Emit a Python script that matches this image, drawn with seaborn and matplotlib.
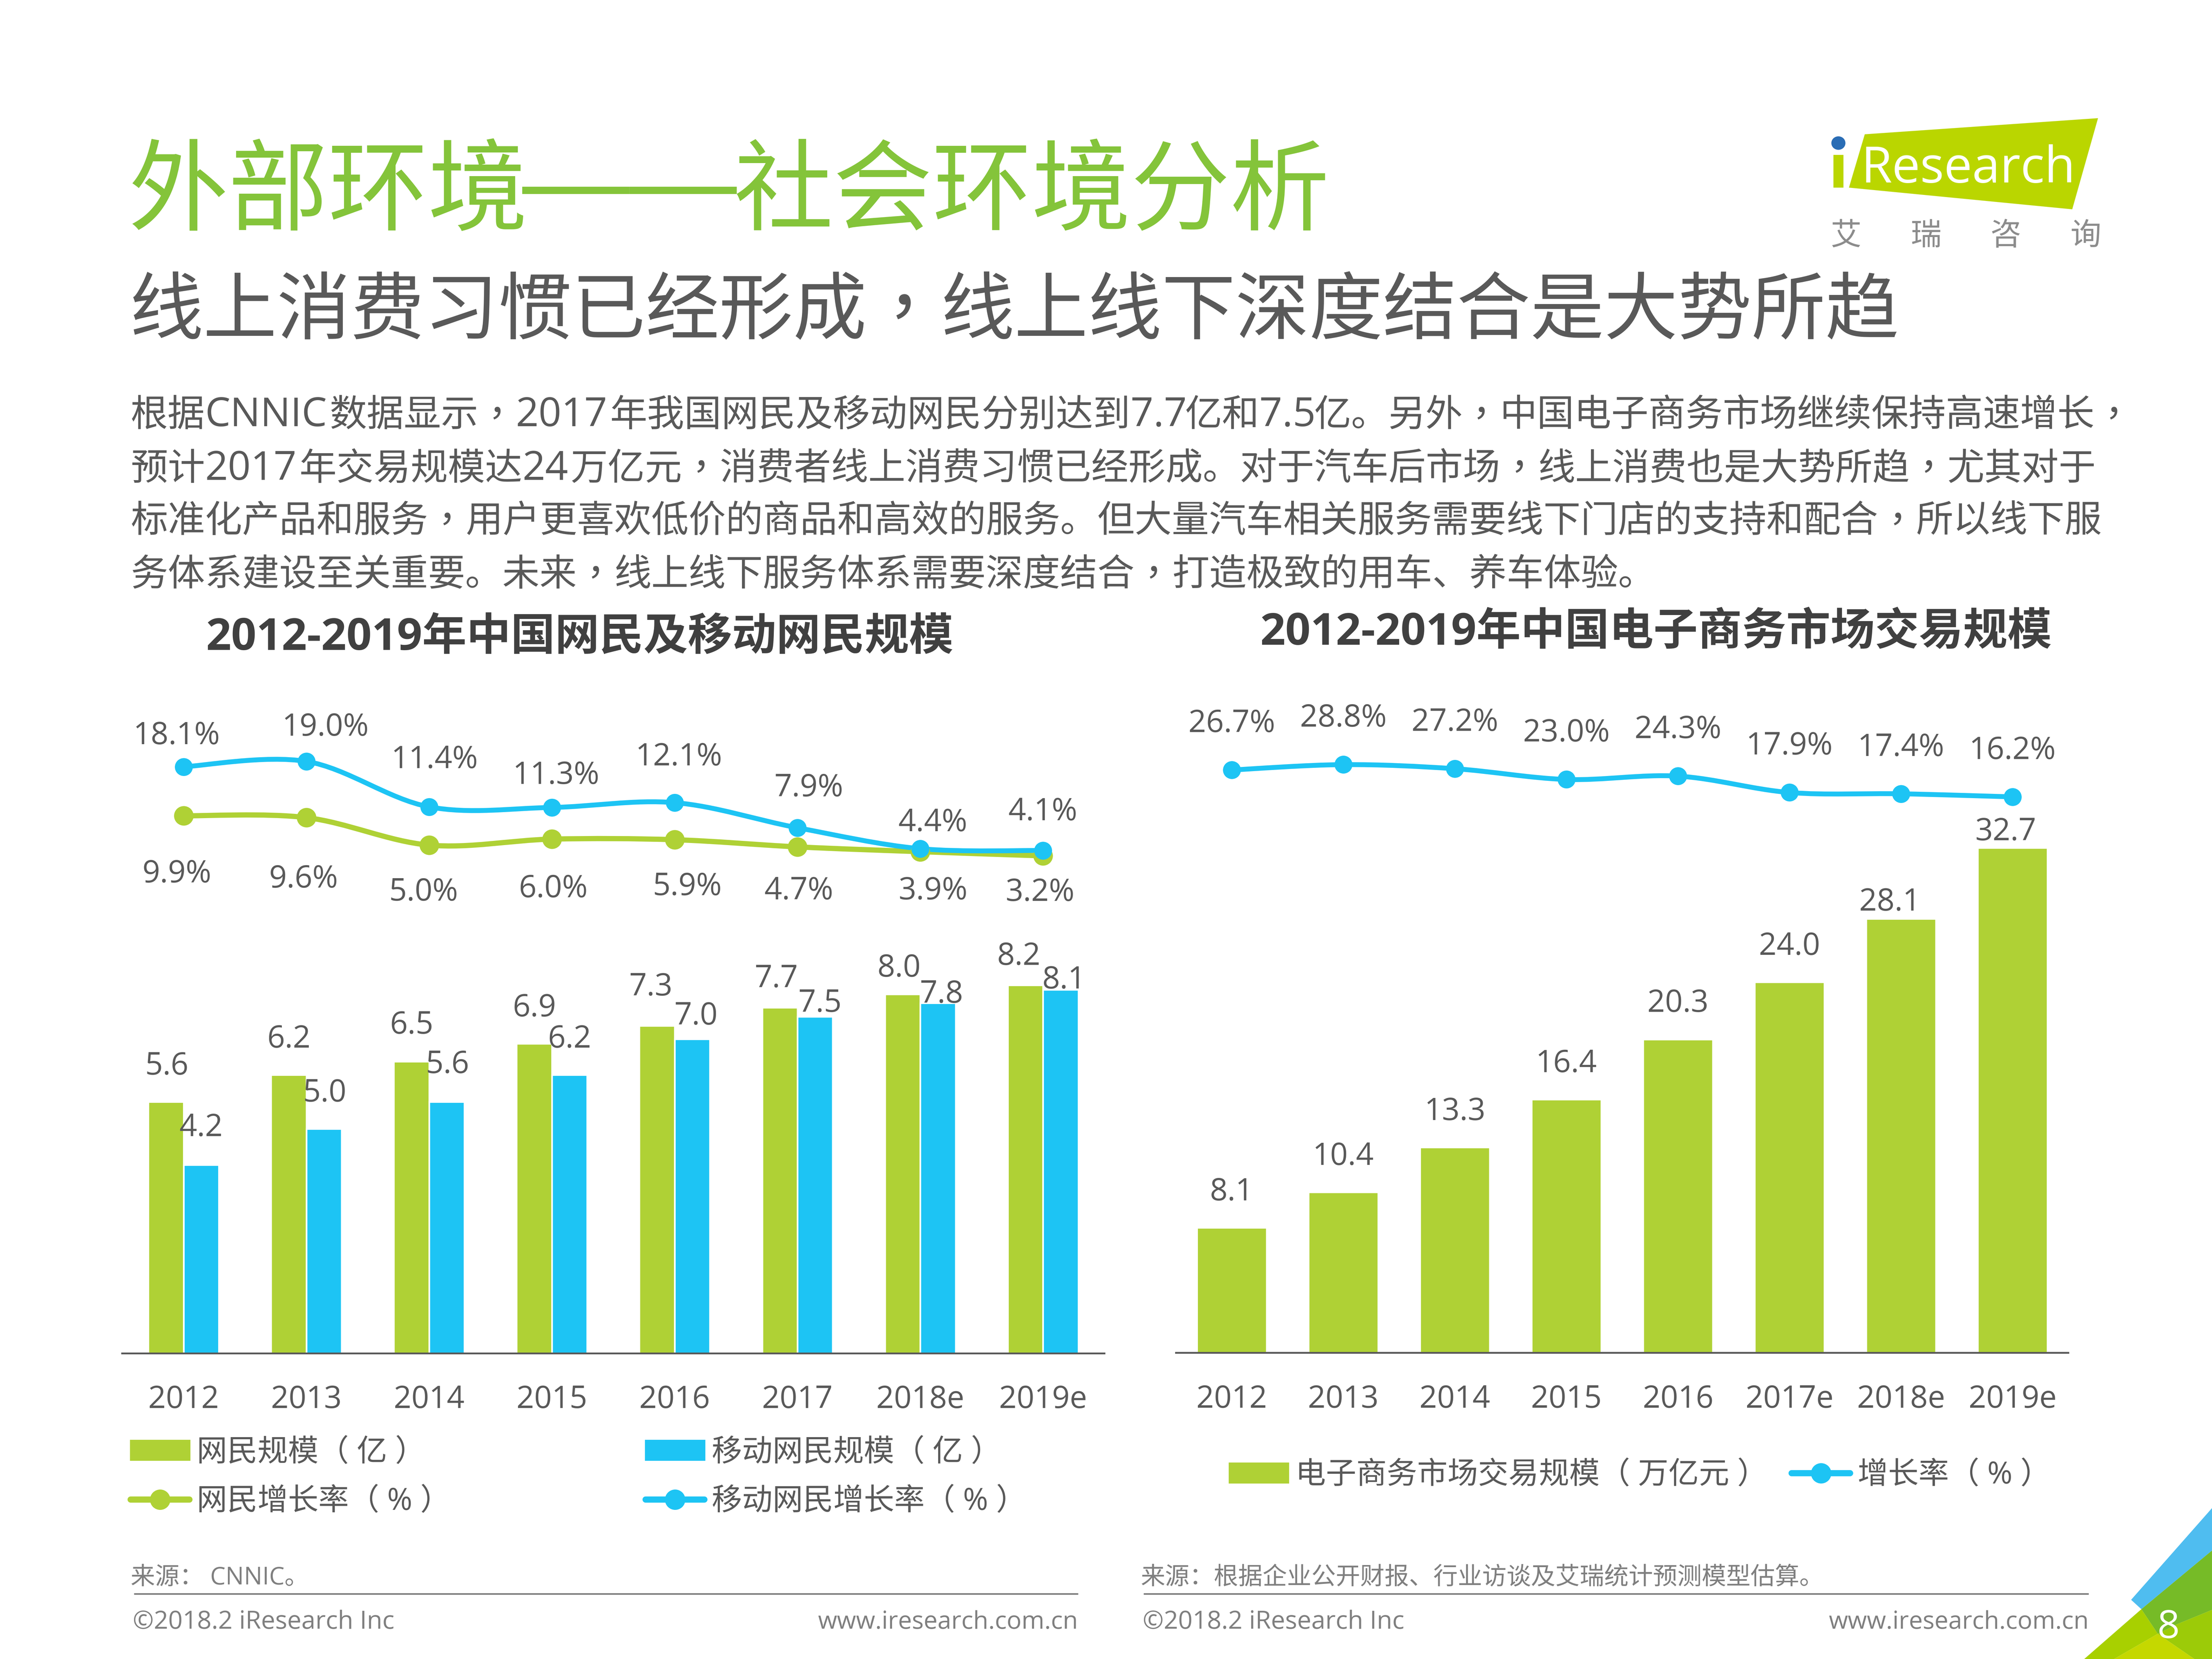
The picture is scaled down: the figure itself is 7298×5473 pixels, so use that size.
#!/usr/bin/env python3
import re
import numpy as np
import pandas as pd
import matplotlib
matplotlib.use('Agg')
import matplotlib.pyplot as plt
import seaborn as sns
from matplotlib.lines import Line2D
from matplotlib.patches import Patch, PathPatch, Polygon, Ellipse
from matplotlib.path import Path

# Data
years_left = ['2012', '2013', '2014', '2015', '2016', '2017', '2018e', '2019e']
years_right = ['2012', '2013', '2014', '2015', '2016', '2017e', '2018e', '2019e']
netizens = [5.6, 6.2, 6.5, 6.9, 7.3, 7.7, 8.0, 8.2]
mobile_netizens = [4.2, 5.0, 5.6, 6.2, 7.0, 7.5, 7.8, 8.1]
netizen_growth = [9.9, 9.6, 5.0, 6.0, 5.9, 4.7, 3.9, 3.2]
mobile_growth = [18.1, 19.0, 11.4, 11.3, 12.1, 7.9, 4.4, 4.1]
ecommerce = [8.1, 10.4, 13.3, 16.4, 20.3, 24.0, 28.1, 32.7]
ecommerce_growth = [26.7, 28.8, 27.2, 23.0, 24.3, 17.9, 17.4, 16.2]

body_lines = [
    '根据CNNIC数据显示，2017年我国网民及移动网民分别达到7.7亿和7.5亿。另外，中国电子商务市场继续保持高速增长，',
    '预计2017年交易规模达24万亿元，消费者线上消费习惯已经形成。对于汽车后市场，线上消费也是大势所趋，尤其对于',
    '标准化产品和服务，用户更喜欢低价的商品和高效的服务。但大量汽车相关服务需要线下门店的支持和配合，所以线下服',
    '务体系建设至关重要。未来，线上线下服务体系需要深度结合，打造极致的用车、养车体验。',
]

# Label offsets (dx, dy) from the mark, in 1568-wide preview pixels
netizen_off = [(0.5, 27), (0, 27), (0, 27.5), (0, 27), (-4.5, 29), (-2.5, 22), (-2.5, 20), (-4.5, 22)]
mobile_off = [(0, 28), (0.5, 27), (0.5, 28), (0, 27), (2.5, 18), (3.5, 11), (2.5, 8), (2.5, 8.5)]
mobile_growth_off = [(-5, 23.6), (13.5, 25.8), (4, 35), (3, 24.4), (3, 34), (8, 30), (9, 20), (0, 29)]
netizen_growth_off = [(-4.6, -39.5), (-2, -42), (-4, -31.6), (1, -33.6), (9, -31.7), (1, -29.6), (9, -26.2), (-2, -24.3)]
ecommerce_off = [(0, 27), (0, 27), (0, 27), (0, 27), (0, 27), (0, 27), (-8, 13.5), (-5, 13)]
ecommerce_growth_off = [(0, 34.5)] * 8

# Layout is worked out on the 7550x5662 page; SAVE_DPI keeps the file under the 40 MP reader limit
W, H, DPI = 7550, 5662, 400
SAVE_DPI = 386.7
PREVIEW = W / 1568
GREEN = '#AFD135'
BLUE = '#1DC4F4'
TITLE_GREEN = '#84C43A'
TEXT = '#595959'
GREY = '#7F7F7F'
LATIN_CJK = ['Open Sans', 'Noto Sans CJK SC']
CJK = ['Noto Sans CJK SC', 'DejaVu Sans']

sns.set_theme(style='white')
plt.rcParams['font.family'] = LATIN_CJK
plt.rcParams['axes.unicode_minus'] = False

fig = plt.figure(figsize=(W / DPI, H / DPI), dpi=DPI, facecolor='white')
renderer = fig.canvas.get_renderer()

# Page layer in pixel coordinates
bg = fig.add_axes([0, 0, 1, 1], zorder=0)
bg.set_xlim(0, W)
bg.set_ylim(H, 0)
bg.axis('off')


def axes_rect(x0, x1, y_top, y_bottom):
    return [x0 / W, 1 - y_bottom / H, (x1 - x0) / W, (y_bottom - y_top) / H]


def smooth_line(ax, xs, ys, color, lw):
    # same look as the spreadsheet "smoothed line": Catmull-Rom through the points
    xs = np.asarray(xs, dtype=float)
    ys = np.asarray(ys, dtype=float)
    verts = [(xs[0], ys[0])]
    codes = [Path.MOVETO]
    for i in range(len(xs) - 1):
        p = max(i - 1, 0)
        n = min(i + 2, len(xs) - 1)
        verts.append((xs[i] + (xs[i + 1] - xs[p]) / 6, ys[i] + (ys[i + 1] - ys[p]) / 6))
        verts.append((xs[i + 1] - (xs[n] - xs[i]) / 6, ys[i + 1] - (ys[n] - ys[i]) / 6))
        verts.append((xs[i + 1], ys[i + 1]))
        codes += [Path.CURVE4] * 3
    ax.add_patch(PathPatch(Path(verts, codes), fill=False, edgecolor=color, lw=lw,
                           capstyle='round', zorder=2))


def label(ax, x, y, text, off):
    ax.annotate(text, (x, y),
                xytext=(off[0] * PREVIEW * 72 / DPI, (off[1] * PREVIEW - 36) * 72 / DPI),
                textcoords='offset points', ha='center', va='baseline',
                fontsize=19, color=TEXT, zorder=5, annotation_clip=False)


def mixed_text(x, baseline, s, cjk_size, latin_size, color):
    # Latin runs are set larger than the Chinese and full-width commas sit centred, as in the slide
    em = cjk_size * DPI / 72
    for run in re.findall(r'[A-Za-z0-9.]+|，|[^A-Za-z0-9.，]+', s):
        if re.match(r'[A-Za-z0-9.]', run):
            t = bg.text(x, baseline, run, family='Open Sans', fontsize=latin_size, color=color, va='baseline')
            pad = -0.05 if '.' in run else 0.07
            x += t.get_window_extent(renderer=renderer).width + pad * em
        else:
            font = 'Noto Sans CJK TC' if run == '，' else 'Noto Sans CJK SC'
            bg.text(x, baseline, run, family=font, fontsize=cjk_size, color=color, va='baseline')
            x += len(run) * em


def rate_axes(rect, top_px, bottom_px, ref_rate, ref_px, px_per_rate):
    ax = fig.add_axes(rect, facecolor='none', zorder=3)
    ax.set_xlim(-0.5, 7.5)
    ax.set_ylim(ref_rate - (bottom_px - ref_px) / px_per_rate,
                ref_rate + (ref_px - top_px) / px_per_rate)
    ax.axis('off')
    return ax


def rate_series(ax, rates, color, size, lw, offsets):
    pos = np.arange(len(rates))
    smooth_line(ax, pos, rates, color, lw)
    sns.scatterplot(x=pos, y=rates, color=color, s=size ** 2, linewidth=0, ax=ax, zorder=3, legend=False)
    for i, r in enumerate(rates):
        label(ax, i, r, f'{r:.1f}%', offsets[i])


def style_bar_axes(ax, ticks):
    sns.despine(ax=ax, left=True)
    ax.spines['bottom'].set_color(TEXT)
    ax.spines['bottom'].set_linewidth(1.1)
    ax.set_xlim(-0.5, 7.5)
    ax.set_xlabel('')
    ax.set_ylabel('')
    ax.set_yticks([])
    ax.set_xticks(range(len(ticks)), ticks)
    ax.tick_params(axis='x', length=0, pad=19, labelsize=19, labelcolor=TEXT)
    ax.patch.set_alpha(0)


# Left chart
LEFT_TOP, LEFT_BOTTOM = 2300, 4619
left_rect = axes_rect(417, 417 + 8 * 419, LEFT_TOP, LEFT_BOTTOM)
ax_l = fig.add_axes(left_rect, zorder=2)
df_left = pd.DataFrame({
    'year': years_left * 2,
    'value': netizens + mobile_netizens,
    'series': ['网民规模'] * 8 + ['移动网民规模'] * 8,
})
sns.barplot(data=df_left, x='year', y='value', hue='series', palette=[GREEN, BLUE],
            width=0.575, gap=0, saturation=1, legend=False, ax=ax_l)
ax_l.set_ylim(0, (LEFT_BOTTOM - LEFT_TOP) / 153.2)
style_bar_axes(ax_l, years_left)
for container, values, offsets in zip(ax_l.containers, [netizens, mobile_netizens], [netizen_off, mobile_off]):
    for bar, v, off in zip(container, values, offsets):
        label(ax_l, bar.get_x() + bar.get_width() / 2, v, f'{v:.1f}', off)

ax_lr = rate_axes(left_rect, LEFT_TOP, LEFT_BOTTOM, 19.0, 2599, 20.4)
rate_series(ax_lr, netizen_growth, GREEN, 12, 3.2, netizen_growth_off)
rate_series(ax_lr, mobile_growth, BLUE, 11, 3.0, mobile_growth_off)

# Right chart
RIGHT_TOP, RIGHT_BOTTOM = 2300, 4617
right_rect = axes_rect(4013.5, 4013.5 + 8 * 380.7, RIGHT_TOP, RIGHT_BOTTOM)
ax_r = fig.add_axes(right_rect, zorder=2)
df_right = pd.DataFrame({'year': years_right, 'value': ecommerce})
sns.barplot(data=df_right, x='year', y='value', color=GREEN, width=0.625, saturation=1, ax=ax_r)
ax_r.set_ylim(0, (RIGHT_BOTTOM - RIGHT_TOP) / 52.7)
style_bar_axes(ax_r, years_right)
for bar, v, off in zip(ax_r.containers[0], ecommerce, ecommerce_off):
    label(ax_r, bar.get_x() + bar.get_width() / 2, v, f'{v:.1f}', off)

ax_rr = rate_axes(right_rect, RIGHT_TOP, RIGHT_BOTTOM, 28.8, 2610, 8.73)
rate_series(ax_rr, ecommerce_growth, BLUE, 11, 3.0, ecommerce_growth_off)


# Legends
def line_handle(color, label_text):
    return Line2D([0], [0], color=color, lw=3.8, marker='o', ms=12.5, mew=0,
                  solid_capstyle='round', label=label_text)


legend_style = dict(frameon=False, borderpad=0, borderaxespad=0, labelcolor=TEXT,
                    prop={'family': LATIN_CJK, 'size': 18.7},
                    handlelength=1.93, handleheight=0.6, handletextpad=0.24,
                    bbox_transform=bg.transData, loc='center left')
leg_l = bg.legend(handles=[Patch(color=GREEN, label='网民规模（ 亿 ）'),
                           line_handle(GREEN, '网民增长率（ % ）'),
                           Patch(color=BLUE, label='移动网民规模（ 亿 ）'),
                           line_handle(BLUE, '移动网民增长率（ % ）')],
                  ncol=2, labelspacing=0.6, columnspacing=6.4,
                  bbox_to_anchor=(446, 5042), **legend_style)
bg.add_artist(leg_l)
bg.legend(handles=[Patch(color=GREEN, label='电子商务市场交易规模（ 万亿元 ）'),
                   line_handle(BLUE, '增长率（ % ）')],
          ncol=2, columnspacing=0.78, bbox_to_anchor=(4196, 5036), **legend_style)

# Titles and body text
bg.text(438, 664, '外部环境', family=CJK, fontsize=61.4, color=TITLE_GREEN, va='center')
bg.text(1782, 743, '——', family='Liberation Sans', fontsize=65.9, color=TITLE_GREEN, va='baseline')
bg.text(2504, 664, '社会环境分析', family=CJK, fontsize=61, color=TITLE_GREEN, va='center')
mixed_text(442, 1138, '线上消费习惯已经形成，线上线下深度结合是大势所趋', 45.3, 45.3, TEXT)
for line, y in zip(body_lines, [1454, 1637, 1815, 1998]):
    mixed_text(446, y, line, 22.85, 24.6, TEXT)
bg.text(703, 2179, '2012-2019年中国网民及移动网民规模', fontsize=27.2, fontweight='bold', color='#404040', va='center')
bg.text(4300, 2161, '2012-2019年中国电子商务市场交易规模', fontsize=27.2, fontweight='bold', color='#404040', va='center')

# Footer
bg.text(446, 5385, '来源： CNNIC。', fontsize=15, color=GREY, va='center')
bg.text(3893, 5385, '来源：根据企业公开财报、行业访谈及艾瑞统计预测模型估算。', fontsize=15, color=GREY, va='center')
for x0, x1 in [(457, 3679), (3903, 7128)]:
    bg.plot([x0, x1], [5440, 5440], color=GREY, lw=1.0, solid_capstyle='butt')
bg.text(453, 5536, '©2018.2 iResearch Inc', fontsize=15.5, color=GREY, va='center')
bg.text(3900, 5536, '©2018.2 iResearch Inc', fontsize=15.5, color=GREY, va='center')
bg.text(3679, 5536, 'www.iresearch.com.cn', fontsize=15.2, color=GREY, va='center', ha='right')
bg.text(7128, 5536, 'www.iresearch.com.cn', fontsize=15.2, color=GREY, va='center', ha='right')

# Logo
LOGO_GREEN = '#BAD600'
bg.add_patch(Polygon([(6364, 459), (7160, 404), (7072, 715), (6310, 641)], color=LOGO_GREEN, lw=0))
bg.add_patch(Polygon([(6257, 529), (6291, 529), (6291, 641), (6257, 641)], color=LOGO_GREEN, lw=0))
bg.add_patch(Ellipse((6274, 489), 48, 46, color='#2A6DB5', lw=0))
bg.text(6352, 623, 'Research', fontsize=30.8, color='white', va='baseline')
for ch, x in zip('艾瑞咨询', [6300, 6573, 6846, 7118]):
    bg.text(x, 805, ch, family=CJK, fontsize=19, color='#8C8C8C', ha='center', va='center')

# Corner decoration
bg.add_patch(Polygon([(7273, 5460), (7550, 5146), (7550, 5291), (7308, 5492)], color='#4FBDF0', lw=0))
bg.add_patch(Polygon([(7308, 5492), (7550, 5291), (7550, 5494), (7433, 5542), (7364, 5576)], color='#76BB27', lw=0))
bg.add_patch(Polygon([(7113, 5662), (7308, 5492), (7364, 5576), (7215, 5662)], color='#A8D000', lw=0))
bg.add_patch(Polygon([(7215, 5662), (7364, 5576), (7489, 5662)], color='#C5D800', lw=0))
bg.add_patch(Polygon([(7364, 5576), (7433, 5542), (7550, 5494), (7550, 5662), (7489, 5662)], color='#9CCB08', lw=0))
bg.text(7400, 5555, '8', fontsize=24, color='white', ha='center', va='center')

fig.savefig('out.png', dpi=SAVE_DPI)
